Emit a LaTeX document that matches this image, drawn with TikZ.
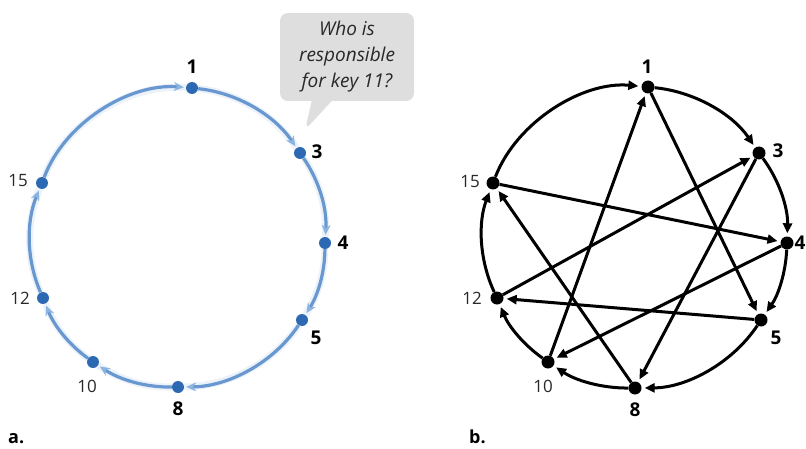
\documentclass[tikz,border=0pt]{standalone}
\usepackage{fontspec}
\setmainfont{Open Sans}
\usetikzlibrary{arrows.meta,shapes.callouts}
\definecolor{ringblue}{RGB}{105,152,208}
\definecolor{tipblue}{RGB}{140,180,225}
\definecolor{dotblue}{RGB}{45,105,178}
\definecolor{glowblue}{RGB}{222,233,246}
\definecolor{bubblegray}{RGB}{222,222,222}
\definecolor{textdark}{RGB}{40,40,40}
\tikzset{
  dota/.style={circle,fill=dotblue,inner sep=0pt,minimum size=12pt},
  dotb/.style={circle,fill=black,inner sep=0pt,minimum size=13pt},
  ringa/.style={draw=ringblue,line width=3.2pt,looseness=0.88,shorten >=2pt,
    -{Stealth[length=10pt,width=9pt,color=tipblue]}},
  glowa/.style={draw=glowblue,line width=7pt,looseness=0.88},
  ringb/.style={draw=black,line width=3pt,looseness=0.88,shorten >=3pt,
    -{Triangle[length=10pt,width=9pt]}},
  chordb/.style={draw=black,line width=3pt,shorten >=3pt,
    -{Triangle[length=10pt,width=9pt]}},
  lblone/.style={font=\fontsize{19}{19}\selectfont\bfseries,inner sep=0pt},
  lbltwo/.style={font=\fontsize{17}{17}\selectfont,text=textdark,inner sep=0pt},
  panel/.style={font=\fontsize{18}{18}\selectfont\bfseries,inner sep=0pt,anchor=base west}
}
\begin{document}
\begin{tikzpicture}[x=1pt,y=1pt]
\useasboundingbox (0,0) rectangle (806,448);
% ---------- panel a ----------
\node[dota] (a1) at (192,360) {};
\node[dota] (a3) at (300,295) {};
\node[dota] (a4) at (325,205) {};
\node[dota] (a5) at (302,128) {};
\node[dota] (a8) at (178,61) {};
\node[dota] (a10) at (93,86) {};
\node[dota] (a12) at (43,150) {};
\node[dota] (a15) at (42,265) {};
\begin{scope}[opacity=0.6]
\draw[glowa] (a1) to[bend left=25] (a3);
\draw[glowa] (a3) to[bend left=19] (a4);
\draw[glowa] (a4) to[bend left=16] (a5);
\draw[glowa] (a5) to[bend left=28] (a8);
\draw[glowa] (a8) to[bend left=17] (a10);
\draw[glowa] (a10) to[bend left=16] (a12);
\draw[glowa] (a12) to[bend left=23] (a15);
\draw[glowa] (a15) to[bend left=37] (a1);
\end{scope}
\draw[ringa] (a1) to[bend left=25] (a3);
\draw[ringa] (a3) to[bend left=19] (a4);
\draw[ringa] (a4) to[bend left=16] (a5);
\draw[ringa] (a5) to[bend left=28] (a8);
\draw[ringa] (a8) to[bend left=17] (a10);
\draw[ringa] (a10) to[bend left=16] (a12);
\draw[ringa] (a12) to[bend left=23] (a15);
\draw[ringa] (a15) to[bend left=37] (a1);
\node[lblone] (la1) at (192,381) {1};
\node[lblone] (la3) at (317,296) {3};
\node[lblone] (la4) at (343,205) {4};
\node[lblone] (la5) at (316,110) {5};
\node[lblone] (la8) at (178,39) {8};
\node[lbltwo] (la10) at (87,62) {10};
\node[lbltwo] (la12) at (20,150) {12};
\node[lbltwo] (la15) at (18,267) {15};
\node[rectangle callout,fill=bubblegray,rounded corners=8pt,
  minimum width=134pt,minimum height=88pt,inner sep=0pt,
  callout absolute pointer={(305,318)},callout pointer width=20pt,
  align=center,text=textdark,font=\fontsize{19}{26}\selectfont\itshape] (bubble) at (347,391)
  {Who is\\responsible\\for key 11?};
\node[panel] (pa) at (8,5) {a.};
% ---------- panel b ----------
\node[dotb] (b1) at (648,361) {};
\node[dotb] (b3) at (759,295) {};
\node[dotb] (b4) at (787,205) {};
\node[dotb] (b5) at (761,128) {};
\node[dotb] (b8) at (635,60) {};
\node[dotb] (b10) at (548,86) {};
\node[dotb] (b12) at (497,150) {};
\node[dotb] (b15) at (493,265) {};
\draw[ringb] (b1) to[bend left=25] (b3);
\draw[ringb] (b3) to[bend left=19] (b4);
\draw[ringb] (b4) to[bend left=16] (b5);
\draw[ringb] (b5) to[bend left=28] (b8);
\draw[ringb] (b8) to[bend left=17] (b10);
\draw[ringb] (b10) to[bend left=16] (b12);
\draw[ringb] (b12) to[bend left=23] (b15);
\draw[ringb] (b15) to[bend left=37] (b1);
\draw[chordb] (b1) -- (b5);
\draw[chordb] (b10) -- (b1);
\draw[chordb] (b12) -- (b3);
\draw[chordb] (b3) -- (b8);
\draw[chordb] (b15) -- (b4);
\draw[chordb] (b4) -- (b10);
\draw[chordb] (b5) -- (b12);
\draw[chordb] (b8) -- (b15);
\node[lblone] (lb1) at (647,381) {1};
\node[lblone] (lb3) at (778,297) {3};
\node[lblone] (lb4) at (800,205) {4};
\node[lblone] (lb5) at (776,110) {5};
\node[lblone] (lb8) at (635,38) {8};
\node[lbltwo] (lb10) at (543,62) {10};
\node[lbltwo] (lb12) at (472,150) {12};
\node[lbltwo] (lb15) at (470,266) {15};
\node[panel] (pb) at (469,5) {b.};
\end{tikzpicture}
\end{document}
